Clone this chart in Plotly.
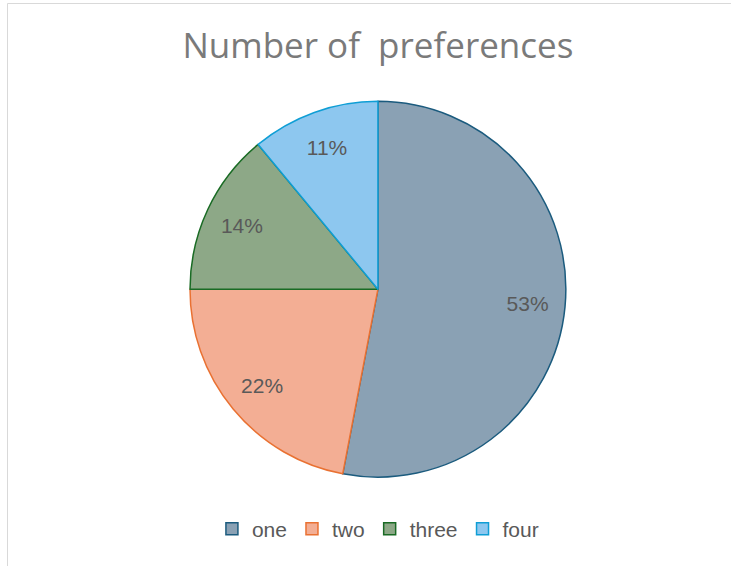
import plotly.graph_objects as go

categories = ["one", "two", "three", "four"]
values = [53, 22, 14, 11]
fill_colors = ["#8aa1b4", "#f3ae94", "#8da887", "#8dc7ef"]
line_colors = ["#1b5b7e", "#e97132", "#196b24", "#0f9ed5"]

pie_domain = dict(x=[0.2, 0.834], y=[0.157, 0.821])

fig = go.Figure()
fig.add_trace(
    go.Pie(
        labels=categories,
        values=values,
        sort=False,
        direction="clockwise",
        rotation=0,
        marker=dict(colors=fill_colors, line=dict(color=line_colors, width=1.5)),
        textinfo="none",
        domain=pie_domain,
        hoverinfo="label+percent",
    )
)
# label carrier: same slices, transparent, ring so labels sit toward the rim
fig.add_trace(
    go.Pie(
        labels=categories,
        values=values,
        sort=False,
        direction="clockwise",
        rotation=0,
        hole=0.6,
        marker=dict(colors=["rgba(0,0,0,0)"] * len(values), line=dict(width=0)),
        textinfo="percent",
        texttemplate="%{percent:.0%}",
        textposition="inside",
        insidetextorientation="horizontal",
        textfont=dict(family="Liberation Sans", size=21, color="#595959"),
        domain=pie_domain,
        showlegend=False,
        hoverinfo="skip",
    )
)

fig.update_layout(
    width=731,
    height=566,
    margin=dict(l=0, r=0, t=0, b=0),
    paper_bgcolor="white",
    plot_bgcolor="white",
    title=dict(
        text="Number of  preferences",
        x=0.517,
        xanchor="center",
        y=1 - 46 / 566,
        yanchor="middle",
        font=dict(family="Open Sans", size=35, color="#7a7a7a"),
    ),
    legend=dict(
        orientation="h",
        x=0.517,
        xanchor="center",
        y=1 - 529 / 566,
        yanchor="middle",
        font=dict(family="Liberation Sans", size=21, color="#595959"),
        itemwidth=30,
        traceorder="normal",
    ),
    shapes=[
        dict(
            type="rect",
            xref="paper",
            yref="paper",
            x0=7.5 / 731,
            x1=1.1,
            y0=-0.1,
            y1=1 - 3.5 / 566,
            line=dict(color="#d9d9d9", width=1),
            fillcolor="rgba(0,0,0,0)",
            layer="below",
        )
    ],
)

fig.write_html(
    "out.html",
    config={"displayModeBar": False},
    post_script="document.body.style.margin='0';document.body.style.overflow='hidden';",
)
